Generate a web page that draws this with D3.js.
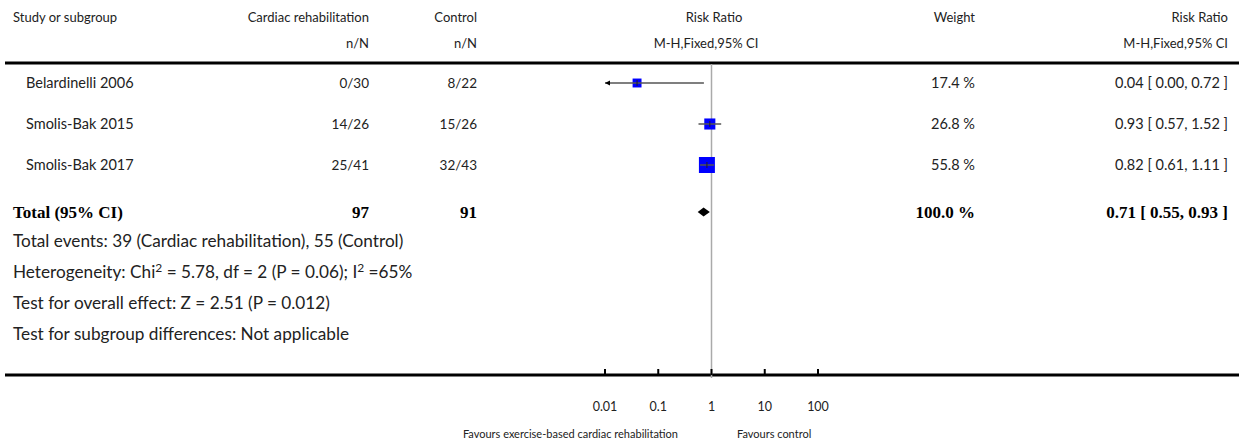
<!DOCTYPE html>
<html>
<head>
<meta charset="utf-8">
<script src="https://cdn.jsdelivr.net/npm/d3@7"></script>
<style>
  body { margin: 0; background: #fff; }
  svg text { font-family: Lato, "Open Sans", sans-serif; fill: #222; }
  .bold { font-family: "Liberation Serif", "DejaVu Serif", serif !important; font-weight: bold; fill: #000 !important; }
</style>
</head>
<body>
<div id="plot"></div>
<script>
// forest plot data
const studies = ["Belardinelli 2006", "Smolis-Bak 2015", "Smolis-Bak 2017"];
const expEvents = ["0/30", "14/26", "25/41"];
const ctlEvents = ["8/22", "15/26", "32/43"];
const rr = [0.04, 0.93, 0.82];
const rrLow = [0.00, 0.57, 0.61];
const rrHigh = [0.72, 1.52, 1.11];
const weights = [17.4, 26.8, 55.8];

const totalLabel = "Total (95% CI)";
const totalExp = 97, totalCtl = 91;
const totalRR = 0.71, totalLow = 0.55, totalHigh = 0.93, totalWeight = 100.0;

const footLines = [
  "Total events: 39 (Cardiac rehabilitation), 55 (Control)",
  "Heterogeneity: Chi\u00B2 = 5.78, df = 2 (P = 0.06); I\u00B2 =65%",
  "Test for overall effect: Z = 2.51 (P = 0.012)",
  "Test for subgroup differences: Not applicable"
];
const tickValues = [0.01, 0.1, 1, 10, 100];
const tickLabels = ["0.01", "0.1", "1", "10", "100"];

const W = 1239, H = 445;
const svg = d3.select("#plot").append("svg")
  .attr("width", W).attr("height", H);

const x = d3.scaleLog().domain([0.01, 100]).range([605, 818]);
const size = d3.scaleSqrt().domain([0, 100]).range([0, 21.4]);
const rowY = d3.scalePoint().domain(studies).range([83, 165]);
const totalY = 212;
const fmt = d3.format(".2f");

const colStudy = 13, colName = 26, colExp = 369, colCtl = 477, colPlot = 706, colWeight = 975, colRR = 1228;

// headers
const head = svg.append("g").style("font-size", "13px");
head.append("text").attr("x", colStudy).attr("y", 22).text("Study or subgroup");
head.append("text").attr("x", colExp).attr("y", 22).attr("text-anchor", "end").text("Cardiac rehabilitation");
head.append("text").attr("x", colExp).attr("y", 48).attr("text-anchor", "end").text("n/N");
head.append("text").attr("x", colCtl).attr("y", 22).attr("text-anchor", "end").text("Control");
head.append("text").attr("x", colCtl).attr("y", 48).attr("text-anchor", "end").text("n/N");
head.append("text").attr("x", colPlot + 8).attr("y", 22).attr("text-anchor", "middle").text("Risk Ratio");
head.append("text").attr("x", colPlot).attr("y", 48).attr("text-anchor", "middle").text("M-H,Fixed,95% CI");
head.append("text").attr("x", colWeight).attr("y", 22).attr("text-anchor", "end").text("Weight");
head.append("text").attr("x", colRR).attr("y", 22).attr("text-anchor", "end").text("Risk Ratio");
head.append("text").attr("x", colRR).attr("y", 48).attr("text-anchor", "end").text("M-H,Fixed,95% CI");

// thick rules
svg.append("line").attr("x1", 5).attr("x2", W).attr("y1", 63).attr("y2", 63)
  .attr("stroke", "#000").attr("stroke-width", 3);
svg.append("line").attr("x1", 5).attr("x2", W).attr("y1", 375).attr("y2", 375)
  .attr("stroke", "#000").attr("stroke-width", 3);

// line of no effect
svg.append("line").attr("x1", x(1)).attr("x2", x(1)).attr("y1", 64).attr("y2", 378)
  .attr("stroke", "#aaa").attr("stroke-width", 1.5);

// study rows
const rows = svg.append("g").style("font-size", "13.5px");
studies.forEach((s, i) => {
  const y = rowY(s);
  rows.append("text").attr("x", colName).attr("y", y + 5).style("font-size", "14.5px").text(s);
  rows.append("text").attr("x", colExp).attr("y", y + 5).attr("text-anchor", "end").text(expEvents[i]);
  rows.append("text").attr("x", colCtl).attr("y", y + 5).attr("text-anchor", "end").text(ctlEvents[i]);
  rows.append("text").attr("x", colWeight).attr("y", y + 5).attr("text-anchor", "end")
    .style("font-size", "14.5px").text(weights[i].toFixed(1) + " %");
  rows.append("text").attr("x", colRR).attr("y", y + 5).attr("text-anchor", "end")
    .style("font-size", "14.5px")
    .text(`${fmt(rr[i])} [ ${fmt(rrLow[i])}, ${fmt(rrHigh[i])} ]`);

  const lo = Math.max(rrLow[i], 0.01), hi = Math.min(rrHigh[i], 100);
  const sq = size(weights[i]);
  svg.append("rect")
    .attr("x", x(rr[i]) - sq / 2).attr("y", y - sq / 2)
    .attr("width", sq).attr("height", sq)
    .attr("fill", "#0000ff");
  svg.append("line").attr("x1", x(lo)).attr("x2", x(hi)).attr("y1", y).attr("y2", y)
    .attr("stroke", "#555").attr("stroke-width", 1.5);
  svg.append("line").attr("x1", x(rr[i])).attr("x2", x(rr[i])).attr("y1", y - 3).attr("y2", y + 3)
    .attr("stroke", "#222").attr("stroke-width", 1);
  if (rrLow[i] < 0.01) {
    const ax = x(0.01);
    svg.append("path")
      .attr("d", `M${ax},${y} L${ax + 5},${y - 2.5} L${ax + 5},${y + 2.5} Z`)
      .attr("fill", "#000");
  }
});

// total row
const tot = svg.append("g").style("font-size", "17px");
tot.append("text").attr("class", "bold").attr("x", colStudy).attr("y", totalY + 6).text(totalLabel);
tot.append("text").attr("class", "bold").attr("x", colExp).attr("y", totalY + 6).attr("text-anchor", "end").text(totalExp);
tot.append("text").attr("class", "bold").attr("x", colCtl).attr("y", totalY + 6).attr("text-anchor", "end").text(totalCtl);
tot.append("text").attr("class", "bold").attr("x", colWeight).attr("y", totalY + 6).attr("text-anchor", "end").text(totalWeight.toFixed(1) + " %");
tot.append("text").attr("class", "bold").attr("x", colRR).attr("y", totalY + 6).attr("text-anchor", "end")
  .text(`${fmt(totalRR)} [ ${fmt(totalLow)}, ${fmt(totalHigh)} ]`);

svg.append("path")
  .attr("d", `M${x(totalLow)},${totalY} L${x(totalRR)},${totalY - 4.5} L${x(totalHigh)},${totalY} L${x(totalRR)},${totalY + 4.5} Z`)
  .attr("fill", "#000");

// footnotes, with "²" drawn as a raised smaller 2
const foot = svg.append("g").style("font-size", "17.2px");
footLines.forEach((t, i) => {
  const txt = foot.append("text").attr("x", colStudy).attr("y", 247 + i * 31);
  t.split("\u00B2").forEach((part, j) => {
    if (j > 0) {
      txt.append("tspan").attr("dy", -6).style("font-size", "12px").text("2");
      txt.append("tspan").attr("dy", 6).text(part);
    } else {
      txt.append("tspan").text(part);
    }
  });
});

// axis
const axis = svg.append("g").style("font-size", "12.5px");
tickValues.forEach((v, i) => {
  axis.append("line").attr("x1", x(v)).attr("x2", x(v)).attr("y1", 369).attr("y2", 375)
    .attr("stroke", "#000").attr("stroke-width", 2);
  axis.append("text").attr("x", x(v)).attr("y", 411).attr("text-anchor", "middle").text(tickLabels[i]);
});
axis.append("text").attr("x", 678).attr("y", 438).attr("text-anchor", "end")
  .style("font-size", "11px").text("Favours exercise-based cardiac rehabilitation");
axis.append("text").attr("x", 737).attr("y", 438)
  .style("font-size", "11px").text("Favours control");
</script>
</body>
</html>
